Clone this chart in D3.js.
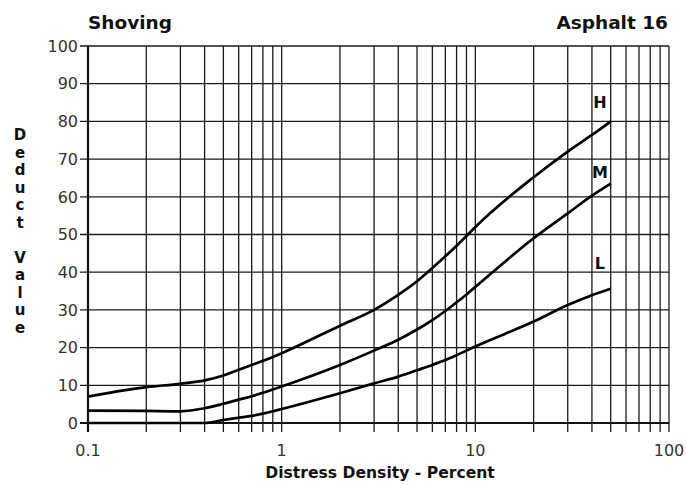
<!DOCTYPE html>
<html>
<head>
<meta charset="utf-8">
<script src="https://cdn.jsdelivr.net/npm/d3@7"></script>
<style>
  body { margin: 0; background: #fff; }
  svg { font-family: "DejaVu Sans", Verdana, sans-serif; }
  .tick-label { fill: #333; font-size: 16px; }
  .bold { font-weight: bold; fill: #111; }
</style>
</head>
<body>
<svg width="686" height="485"></svg>
<script>
// distress density (%) where the curves were read
var density = [0.1, 0.2, 0.3, 0.4, 0.5, 0.6, 0.7, 0.8, 0.9, 1, 2, 3, 4, 5, 6, 7, 8, 9, 10, 20, 30, 40, 50];
var highSeverity = [7, 9.5, 10.4, 11.3, 12.6, 14.1, 15.4, 16.5, 17.5, 18.5, 25.8, 30, 34, 37.6, 41.1, 44.2, 47, 49.6, 52, 65.2, 72, 76.4, 80];
var mediumSeverity = [3.3, 3.2, 3.1, 3.9, 5.1, 6.2, 7.1, 8, 8.9, 9.7, 15.4, 19.2, 22.1, 24.8, 27.3, 29.7, 32, 34.1, 36.1, 49, 55.6, 60.3, 63.5];
var lowSeverity = [0, 0, 0, 0, 0.8, 1.4, 1.9, 2.5, 3.1, 3.7, 7.9, 10.5, 12.3, 14, 15.4, 16.7, 18, 19.2, 20.3, 26.9, 31.3, 33.9, 35.6];

var severityNames = ["H", "M", "L"];
var labelDensity = [44, 44, 44];
var labelDeduct = [85, 66.6, 42.4];

var xTickLabels = [0.1, 1, 10, 100];
var yTicks = [0, 10, 20, 30, 40, 50, 60, 70, 80, 90, 100];

var svg = d3.select("svg");

var x = d3.scaleLog().domain([0.1, 100]).range([88, 669]);
var y = d3.scaleLinear().domain([0, 100]).range([423, 46]);

// all minor + major vertical grid values 0.1 ... 100
var xGrid = [];
[0.1, 1, 10].forEach(function(dec) {
  for (var k = 1; k <= 9; k++) xGrid.push(+(dec * k).toPrecision(3));
});
xGrid.push(100);

var grid = svg.append("g").attr("stroke", "#1a1a1a").attr("stroke-width", 1.3);

grid.selectAll("line.v")
  .data(xGrid)
  .enter().append("line")
    .attr("class", "v")
    .attr("x1", function(d) { return x(d); })
    .attr("x2", function(d) { return x(d); })
    .attr("y1", y(100))
    .attr("y2", y(0) + 9);

grid.selectAll("line.h")
  .data(yTicks)
  .enter().append("line")
    .attr("class", "h")
    .attr("x1", x(0.1) - 8)
    .attr("x2", x(100))
    .attr("y1", function(d) { return y(d); })
    .attr("y2", function(d) { return y(d); });

// heavier frame on the axes
svg.append("line")
  .attr("x1", x(0.1)).attr("x2", x(0.1))
  .attr("y1", y(100)).attr("y2", y(0) + 9)
  .attr("stroke", "#111").attr("stroke-width", 2.2);
svg.append("line")
  .attr("x1", x(0.1) - 8).attr("x2", x(100))
  .attr("y1", y(0)).attr("y2", y(0))
  .attr("stroke", "#111").attr("stroke-width", 2.2);

// tick labels
svg.append("g").selectAll("text")
  .data(yTicks)
  .enter().append("text")
    .attr("class", "tick-label")
    .attr("x", x(0.1) - 10)
    .attr("y", function(d) { return y(d); })
    .attr("dy", "0.36em")
    .attr("text-anchor", "end")
    .text(function(d) { return d; });

svg.append("g").selectAll("text")
  .data(xTickLabels)
  .enter().append("text")
    .attr("class", "tick-label")
    .attr("x", function(d) { return x(d); })
    .attr("y", 456)
    .attr("text-anchor", "middle")
    .text(function(d) { return d; });

// curves
var series = [highSeverity, mediumSeverity, lowSeverity];
var line = d3.line()
  .x(function(d, i) { return x(density[i]); })
  .y(function(d) { return y(d); })
  .curve(d3.curveMonotoneX);

svg.append("g").selectAll("path")
  .data(series)
  .enter().append("path")
    .attr("d", line)
    .attr("fill", "none")
    .attr("stroke", "#000")
    .attr("stroke-width", 2.7)
    .attr("stroke-linejoin", "round");

// severity labels
svg.append("g").selectAll("text")
  .data(severityNames)
  .enter().append("text")
    .attr("class", "bold")
    .attr("font-size", 16)
    .attr("x", function(d, i) { return x(labelDensity[i]); })
    .attr("y", function(d, i) { return y(labelDeduct[i]); })
    .attr("dy", "0.36em")
    .attr("text-anchor", "middle")
    .text(function(d) { return d; });

// titles
svg.append("text").attr("class", "bold")
  .attr("x", 88).attr("y", 29)
  .attr("font-size", 18.5)
  .text("Shoving");

svg.append("text").attr("class", "bold")
  .attr("x", 668).attr("y", 29)
  .attr("font-size", 18.5)
  .attr("text-anchor", "end")
  .text("Asphalt 16");

svg.append("text").attr("class", "bold")
  .attr("x", 380).attr("y", 478)
  .attr("font-size", 15.6)
  .attr("text-anchor", "middle")
  .text("Distress Density - Percent");

// vertical stacked y title
var yTitle = "Deduct Value".split("");
svg.append("g").selectAll("text")
  .data(yTitle)
  .enter().append("text")
    .attr("class", "bold")
    .attr("font-size", 15)
    .attr("x", 20)
    .attr("y", function(d, i) { return 135 + i * 17.5; })
    .attr("dy", "0.36em")
    .attr("text-anchor", "middle")
    .text(function(d) { return d; });
</script>
</body>
</html>
